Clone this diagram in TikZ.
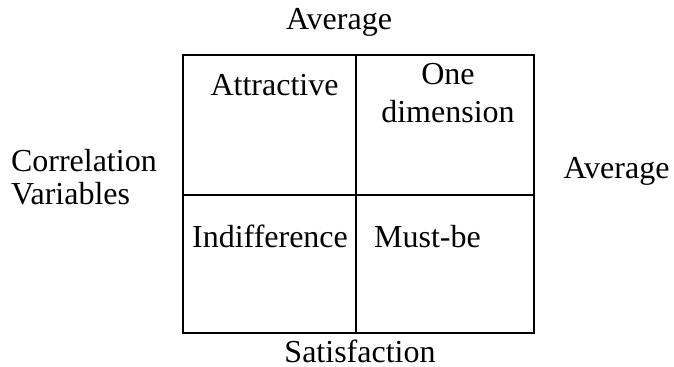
\documentclass[tikz,border=0pt]{standalone}
\usepackage{fontspec}
\setmainfont{Liberation Serif}
\begin{document}
\begin{tikzpicture}[x=0.5pt,y=-0.5pt,line width=1pt,
  font=\fontsize{16}{16.5}\selectfont,
  every node/.style={inner sep=0pt}]
\useasboundingbox (0,0) rectangle (674,366);
% quadrant box
\draw (183,55) rectangle (534,333);
\draw (356,55) -- (356,333);
\draw (183,195) -- (534,195);
% axis labels
\node[anchor=base] (avgtop) at (339,29) {Average};
\node[anchor=base] (satis) at (360,362) {Satisfaction};
\node[anchor=base west,align=left] (corr) at (10,204) {Correlation\\Variables};
\node[anchor=base] (avgright) at (616.5,178) {Average};
% quadrant labels
\node[anchor=base] (attr) at (274.5,95) {Attractive};
\node[anchor=base,align=center] (onedim) at (448,122) {One\\[2.5pt]dimension};
\node[anchor=base] (indiff) at (270,247) {Indifference};
\node[anchor=base] (mustbe) at (427.5,247) {Must-be};
\end{tikzpicture}
\end{document}
